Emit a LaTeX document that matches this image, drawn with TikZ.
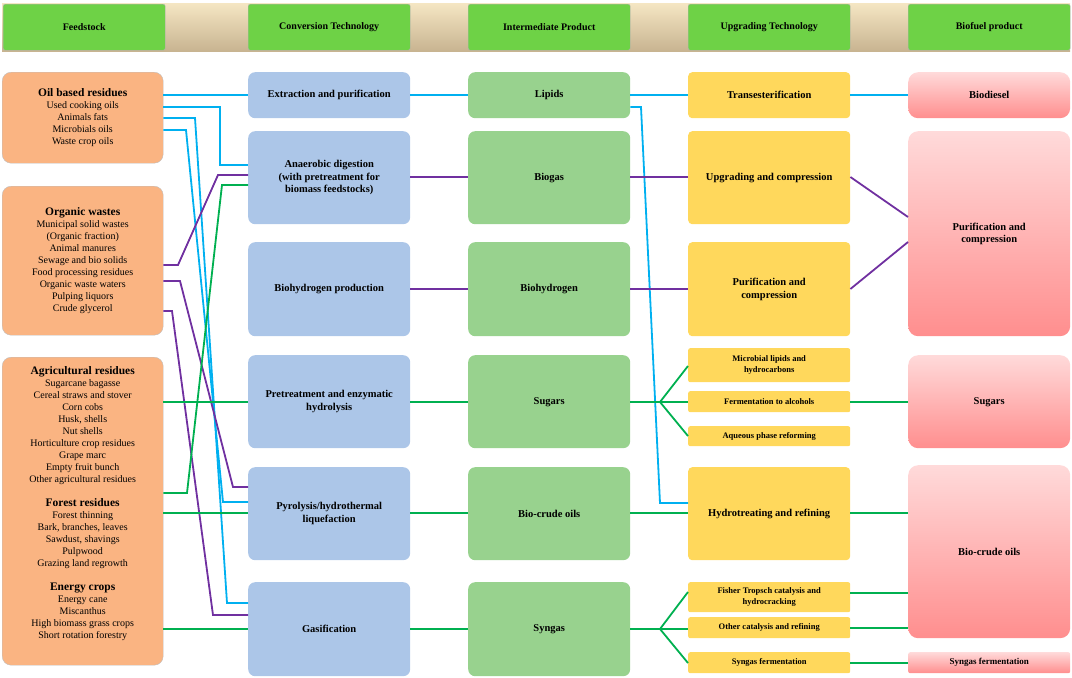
\documentclass[tikz,border=0pt]{standalone}
\usepackage{fontspec}
\setmainfont{Liberation Serif}
\begin{document}
\begin{tikzpicture}[x=1pt,y=-1pt,
  base/.style={draw=none,rounded corners=7pt,inner sep=2pt,align=center,font=\bfseries\fontsize{10.5}{12.5}\selectfont,anchor=north west},
  hdr/.style={base,fill=hgreen,rounded corners=2pt,draw=black!30,font=\bfseries\fontsize{10}{11}\selectfont},
  feed/.style={base,fill=forange,draw=black!25,rounded corners=9pt,font=\fontsize{10}{12}\selectfont},
  conv/.style={base,fill=cblue},
  inter/.style={base,fill=igreen},
  upg/.style={base,fill=uyellow,rounded corners=4pt},
  upgs/.style={upg,rounded corners=2pt,font=\bfseries\fontsize{8.5}{11}\selectfont},
  fuel/.style={base,top color=ptop,bottom color=pbot,rounded corners=10pt},
  fuels/.style={fuel,rounded corners=2pt,font=\bfseries\fontsize{9}{10}\selectfont},
  bl/.style={draw=lblue,line width=1.8pt},
  pu/.style={draw=lpurp,line width=1.8pt},
  gr/.style={draw=lgreen,line width=1.8pt}]
\definecolor{hgreen}{RGB}{110,210,70}
\definecolor{forange}{RGB}{250,180,130}
\definecolor{cblue}{RGB}{172,198,232}
\definecolor{igreen}{RGB}{152,210,142}
\definecolor{uyellow}{RGB}{255,216,92}
\definecolor{ptop}{RGB}{255,218,218}
\definecolor{pbot}{RGB}{255,142,142}
\definecolor{lblue}{RGB}{0,176,240}
\definecolor{lpurp}{RGB}{112,48,160}
\definecolor{lgreen}{RGB}{0,176,80}
\useasboundingbox (0,0) rectangle (1072,678);
\newcommand\bx[7]{\node[#2,minimum width={(#5-#3)*1pt},minimum height={(#6-#4)*1pt}] (#1) at (#3,#4) {#7};}
\newcommand\fh[1]{{\bfseries\fontsize{11.5}{13}\selectfont #1}}
% header band
\shade[top color={rgb,255:red,245;green,230;blue,195},bottom color={rgb,255:red,200;green,180;blue,145}] (2,3) rectangle (1070,51);
\bx{h1}{hdr}{3}{4}{165}{50}{Feedstock}
\bx{h2}{hdr}{248}{4}{410}{50}{Conversion Technology}
\bx{h3}{hdr}{468}{4}{630}{50}{Intermediate Product}
\bx{h4}{hdr}{688}{4}{850}{50}{Upgrading Technology}
\bx{h5}{hdr}{908}{4}{1070}{50}{Biofuel product}
% feedstock
\bx{oil}{feed}{2}{72}{163}{163}{\fh{Oil based residues}\\Used cooking oils\\Animals fats\\Microbials oils\\Waste crop oils}
\bx{org}{feed}{2}{186}{163}{335}{\fh{Organic wastes}\\Municipal solid wastes\\(Organic fraction)\\Animal manures\\Sewage and bio solids\\Food processing residues\\Organic waste waters\\Pulping liquors\\Crude glycerol}
\bx{agr}{feed}{2}{357}{163}{665}{\fh{Agricultural residues}\\Sugarcane bagasse\\Cereal straws and stover\\Corn cobs\\Husk, shells\\Nut shells\\Horticulture crop residues\\Grape marc\\Empty fruit bunch\\Other agricultural residues\\[12pt]\fh{Forest residues}\\Forest thinning\\Bark, branches, leaves\\Sawdust, shavings\\Pulpwood\\Grazing land regrowth\\[12pt]\fh{Energy crops}\\Energy cane\\Miscanthus\\High biomass grass crops\\Short rotation forestry\\[6pt]}
% conversion
\bx{c1}{conv}{248}{72}{410}{118}{Extraction and purification}
\bx{c2}{conv}{248}{131}{410}{224}{Anaerobic digestion\\(with pretreatment for\\biomass feedstocks)}
\bx{c3}{conv}{248}{242}{410}{336}{Biohydrogen production}
\bx{c4}{conv}{248}{355}{410}{448}{Pretreatment and enzymatic\\hydrolysis}
\bx{c5}{conv}{248}{467}{410}{560}{Pyrolysis/hydrothermal\\liquefaction}
\bx{c6}{conv}{248}{582}{410}{676}{Gasification}
% intermediate
\bx{i1}{inter}{468}{72}{630}{118}{Lipids}
\bx{i2}{inter}{468}{131}{630}{224}{Biogas}
\bx{i3}{inter}{468}{242}{630}{336}{Biohydrogen}
\bx{i4}{inter}{468}{355}{630}{448}{Sugars}
\bx{i5}{inter}{468}{467}{630}{560}{Bio-crude oils}
\bx{i6}{inter}{468}{582}{630}{676}{Syngas}
% upgrading
\bx{u1}{upg}{688}{72}{850}{118}{Transesterification}
\bx{u2}{upg}{688}{131}{850}{224}{Upgrading and compression}
\bx{u3}{upg}{688}{242}{850}{336}{Purification and\\compression}
\bx{u4}{upgs}{688}{348}{850}{382}{Microbial lipids and\\hydrocarbons}
\bx{u5}{upgs}{688}{391}{850}{412}{Fermentation to alcohols}
\bx{u6}{upgs}{688}{426}{850}{446}{Aqueous phase reforming}
\bx{u7}{upg}{688}{467}{850}{560}{Hydrotreating and refining}
\bx{u8}{upgs}{688}{582}{850}{612}{Fisher Tropsch catalysis and\\hydrocracking}
\bx{u9}{upgs}{688}{617}{850}{638}{Other catalysis and refining}
\bx{u10}{upgs}{688}{652}{850}{673}{Syngas fermentation}
% biofuel
\bx{f1}{fuel}{908}{72}{1070}{118}{Biodiesel}
\bx{f2}{fuel}{908}{131}{1070}{336}{Purification and\\compression}
\bx{f3}{fuel}{908}{355}{1070}{448}{Sugars}
\bx{f4}{fuel}{908}{465}{1070}{638}{Bio-crude oils}
\bx{f5}{fuels}{908}{652}{1070}{673}{Syngas fermentation}
% junctions
\coordinate (js) at (660,402);
\coordinate (jg) at (660,629);
% blue
\draw[bl] (oil.east|-0,95) -- (c1.west|-0,95);
\draw[bl] (oil.east|-0,107) -- (220,107) -- (220,165) -- (c2.west|-0,165);
\draw[bl] (oil.east|-0,118) -- (195,118) -- (227,603) -- (c6.west|-0,603);
\draw[bl] (oil.east|-0,130) -- (186,130) -- (223,502) -- (c5.west|-0,502);
\draw[bl] (c1.east|-0,95) -- (i1.west|-0,95);
\draw[bl] (i1.east|-0,95) -- (u1.west|-0,95);
\draw[bl] (u1.east|-0,95) -- (f1.west|-0,95);
\draw[bl] (i1.east|-0,107) -- (641,107) -- (660,503) -- (u7.west|-0,503);
% purple
\draw[pu] (org.east|-0,265) -- (178,265) -- (218,175) -- (c2.west|-0,175);
\draw[pu] (org.east|-0,281) -- (180,281) -- (233,487) -- (c5.west|-0,487);
\draw[pu] (org.east|-0,311) -- (172,311) -- (213,615) -- (c6.west|-0,615);
\draw[pu] (c2.east|-0,177) -- (i2.west|-0,177);
\draw[pu] (c3.east|-0,289) -- (i3.west|-0,289);
\draw[pu] (i2.east|-0,177) -- (u2.west|-0,177);
\draw[pu] (i3.east|-0,289) -- (u3.west|-0,289);
\draw[pu] (u2.east|-0,177) -- (f2.west|-0,217);
\draw[pu] (u3.east|-0,289) -- (f2.west|-0,242);
% green
\draw[gr] (agr.east|-0,402) -- (c4.west|-0,402);
\draw[gr] (agr.east|-0,493) -- (187,493) -- (222,185) -- (c2.west|-0,185);
\draw[gr] (agr.east|-0,513) -- (c5.west|-0,513);
\draw[gr] (agr.east|-0,629) -- (c6.west|-0,629);
\draw[gr] (c4.east|-0,402) -- (i4.west|-0,402);
\draw[gr] (c5.east|-0,513) -- (i5.west|-0,513);
\draw[gr] (c6.east|-0,629) -- (i6.west|-0,629);
\draw[gr] (i4.east|-0,402) -- (js);
\draw[gr] (js) -- (u4.west|-0,366);
\draw[gr] (js) -- (u5.west|-0,402);
\draw[gr] (js) -- (u6.west|-0,436);
\draw[gr] (u5.east|-0,402) -- (f3.west|-0,402);
\draw[gr] (i5.east|-0,513) -- (u7.west|-0,513);
\draw[gr] (u7.east|-0,513) -- (f4.west|-0,513);
\draw[gr] (i6.east|-0,629) -- (jg);
\draw[gr] (jg) -- (u8.west|-0,592);
\draw[gr] (jg) -- (u9.west|-0,629);
\draw[gr] (jg) -- (u10.west|-0,663);
\draw[gr] (u8.east|-0,593) -- (f4.west|-0,593);
\draw[gr] (u9.east|-0,628) -- (f4.west|-0,628);
\draw[gr] (u10.east|-0,663) -- (f5.west|-0,663);
\end{tikzpicture}
\end{document}
